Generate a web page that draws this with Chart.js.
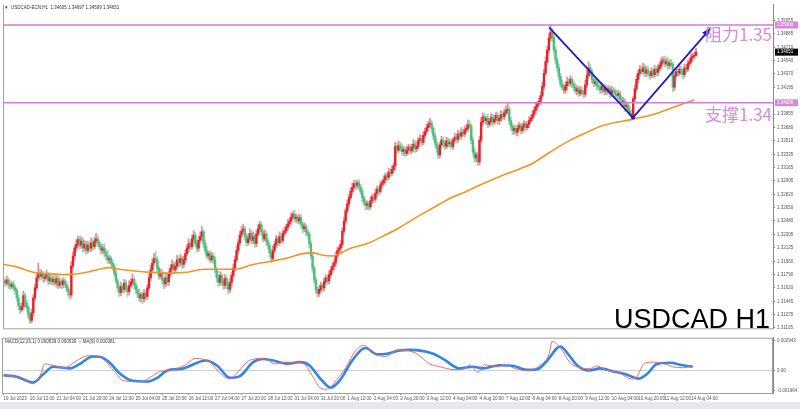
<!DOCTYPE html>
<html>
<head>
<meta charset="utf-8">
<script src="https://cdn.jsdelivr.net/npm/chart.js@4.4.0/dist/chart.umd.min.js"></script>
<style>
  html, body { margin: 0; padding: 0; background: #e6e8ec; }
  #wrap { position: relative; width: 800px; height: 409px; overflow: hidden; }
  #sheet { position: absolute; left: 0; top: 0; width: 800px; height: 402px; background: #fff; }
  canvas { position: absolute; left: 0; }
  #main { top: 0; }
  #macd { top: 333px; }
</style>
</head>
<body>
<div id="wrap">
  <div id="sheet"></div>
  <canvas id="main" width="800" height="333"></canvas>
  <canvas id="macd" width="800" height="69"></canvas>
</div>
<script>
// USDCAD H1 closes, one per hourly bar (19 Jul 20:00 .. 14 Aug 07:00)
const firstOpen = 1.3169;
const closes = [
  1.3171,1.3168,1.3172,1.3166,1.3164,1.3167,1.3162,1.3159,1.3149,1.3139,
  1.3134,1.3138,1.3152,1.3142,1.3137,1.3127,1.3120,1.3130,1.3149,1.3162,
  1.3175,1.3182,1.3177,1.3180,1.3174,1.3176,1.3179,1.3171,1.3175,1.3170,
  1.3173,1.3168,1.3174,1.3165,1.3170,1.3166,1.3171,1.3167,1.3162,1.3157,
  1.3153,1.3190,1.3203,1.3213,1.3218,1.3224,1.3217,1.3222,1.3213,1.3218,
  1.3210,1.3217,1.3213,1.3220,1.3215,1.3222,1.3225,1.3220,1.3215,1.3210,
  1.3213,1.3207,1.3203,1.3198,1.3200,1.3194,1.3190,1.3181,1.3171,1.3162,
  1.3156,1.3164,1.3160,1.3168,1.3162,1.3157,1.3165,1.3169,1.3173,1.3166,
  1.3160,1.3155,1.3149,1.3153,1.3148,1.3155,1.3151,1.3162,1.3175,1.3185,
  1.3194,1.3200,1.3198,1.3187,1.3177,1.3181,1.3172,1.3167,1.3175,1.3170,
  1.3180,1.3187,1.3192,1.3185,1.3190,1.3198,1.3194,1.3200,1.3192,1.3198,
  1.3206,1.3213,1.3219,1.3215,1.3225,1.3230,1.3219,1.3213,1.3223,1.3228,
  1.3234,1.3219,1.3210,1.3203,1.3206,1.3198,1.3203,1.3198,1.3185,1.3175,
  1.3169,1.3178,1.3171,1.3165,1.3174,1.3166,1.3160,1.3169,1.3178,1.3187,
  1.3198,1.3210,1.3220,1.3230,1.3235,1.3238,1.3228,1.3220,1.3225,1.3232,
  1.3223,1.3228,1.3219,1.3231,1.3238,1.3243,1.3234,1.3225,1.3231,1.3222,
  1.3216,1.3207,1.3200,1.3210,1.3218,1.3225,1.3220,1.3228,1.3223,1.3232,
  1.3235,1.3240,1.3244,1.3248,1.3253,1.3257,1.3251,1.3253,1.3248,1.3252,
  1.3244,1.3238,1.3241,1.3234,1.3231,1.3219,1.3203,1.3187,1.3172,1.3160,
  1.3155,1.3160,1.3165,1.3162,1.3170,1.3175,1.3171,1.3179,1.3185,1.3190,
  1.3194,1.3203,1.3210,1.3213,1.3218,1.3235,1.3248,1.3261,1.3270,1.3278,
  1.3286,1.3291,1.3296,1.3294,1.3297,1.3292,1.3286,1.3278,1.3272,1.3268,
  1.3270,1.3266,1.3274,1.3279,1.3276,1.3284,1.3289,1.3286,1.3294,1.3297,
  1.3301,1.3306,1.3304,1.3311,1.3309,1.3314,1.3319,1.3344,1.3339,1.3345,
  1.3342,1.3337,1.3340,1.3335,1.3339,1.3343,1.3338,1.3342,1.3347,1.3341,
  1.3344,1.3352,1.3354,1.3349,1.3358,1.3363,1.3368,1.3372,1.3374,1.3367,
  1.3358,1.3349,1.3342,1.3333,1.3346,1.3352,1.3348,1.3344,1.3351,1.3347,
  1.3349,1.3344,1.3352,1.3356,1.3353,1.3360,1.3357,1.3362,1.3360,1.3365,
  1.3367,1.3372,1.3370,1.3352,1.3337,1.3329,1.3333,1.3324,1.3352,1.3375,
  1.3382,1.3377,1.3380,1.3372,1.3376,1.3381,1.3375,1.3379,1.3384,1.3377,
  1.3380,1.3385,1.3382,1.3387,1.3390,1.3392,1.3377,1.3370,1.3364,1.3367,
  1.3362,1.3367,1.3371,1.3364,1.3369,1.3373,1.3368,1.3372,1.3377,1.3380,
  1.3385,1.3390,1.3395,1.3399,1.3402,1.3409,1.3421,1.3438,1.3453,1.3468,
  1.3483,1.3491,1.3484,1.3468,1.3455,1.3445,1.3434,1.3424,1.3420,1.3416,
  1.3422,1.3427,1.3425,1.3430,1.3424,1.3420,1.3415,1.3418,1.3412,1.3416,
  1.3414,1.3411,1.3423,1.3435,1.3445,1.3440,1.3430,1.3425,1.3427,1.3422,
  1.3420,1.3417,1.3421,1.3415,1.3419,1.3414,1.3418,1.3412,1.3416,1.3415,
  1.3411,1.3409,1.3412,1.3405,1.3400,1.3402,1.3395,1.3397,1.3390,1.3386,
  1.3383,1.3405,1.3418,1.3430,1.3438,1.3443,1.3440,1.3445,1.3438,1.3442,
  1.3438,1.3435,1.3440,1.3436,1.3443,1.3439,1.3444,1.3448,1.3453,1.3455,
  1.3450,1.3453,1.3448,1.3451,1.3449,1.3420,1.3435,1.3440,1.3438,1.3443,
  1.3440,1.3436,1.3445,1.3443,1.3450,1.3453,1.3458,1.3460,1.3461,1.34651
];
// wick lengths in pips above / below the candle body
const upWick = [
  4,3,5,3,4,3,4,3,3,4, 3,5,6,3,4,3,4,5,4,5, 4,12,4,5,3,4,6,3,4,5, 4,5,3,4,5,3,4,3,4,3,
  3,6,5,4,6,5,4,6,4,5, 4,5,4,6,4,5,7,4,3,4, 5,6,4,7,4,3,4,3,4,3, 4,5,3,5,4,3,6,5,7,3,
  3,4,5,3,4,5,3,4,5,6, 5,6,9,4,3,5,4,3,5,4, 4,5,6,3,5,6,4,5,3,5, 5,4,6,3,5,6,3,4,5,6,
  7,3,4,5,3,4,5,3,4,3, 4,5,3,4,5,3,4,5,4,5, 5,6,4,5,6,6,3,4,5,6, 4,6,3,5,6,5,4,3,6,4,
  3,4,5,6,4,5,3,6,4,5, 5,4,6,4,5,3,5,4,3,5, 4,3,5,3,4,3,3,4,3,4, 3,5,4,3,5,4,3,5,4,5,
  4,5,4,3,5,4,5,4,5,4, 5,6,4,5,3,4,3,4,3,4, 4,3,5,4,3,5,4,3,5,4, 5,4,3,5,4,5,4,5,4,6,
  4,5,4,3,5,4,3,5,6,4, 5,4,5,3,5,4,5,4,6,3, 3,4,5,4,3,5,4,3,5,4, 4,5,3,5,4,5,3,6,4,5,
  5,6,5,3,4,5,3,4,5,6, 5,4,3,5,4,5,4,5,4,3, 4,5,4,5,6,7,3,4,3,4, 3,5,4,3,5,4,3,4,5,4,
  5,4,5,3,4,5,6,5,6,5, 6,10,4,3,4,3,5,4,5,3, 5,6,4,5,3,4,5,4,3,5, 4,3,6,7,8,4,3,5,4,3,
  4,3,5,3,4,3,4,3,5,4, 3,5,4,3,4,5,3,4,3,4, 4,3,5,6,4,5,4,6,4,5, 4,3,5,4,5,4,5,4,5,4,
  5,4,5,4,5,3,4,5,4,5, 4,3,5,4,5,4,5,4,4,5
];
const downWick = [
  3,4,3,5,4,3,4,5,4,5, 5,3,4,5,4,5,4,3,4,3, 3,4,5,3,5,4,3,5,4,4, 4,3,5,4,3,5,4,4,5,6,
  6,4,3,5,4,3,5,4,5,4, 5,3,4,4,5,3,4,5,4,5, 4,5,5,4,5,4,5,4,3,5, 5,4,5,4,5,6,4,3,4,5,
  5,6,4,5,6,4,5,4,3,4, 4,3,4,5,4,3,5,6,4,5, 5,4,3,5,4,3,5,4,5,4, 4,3,5,4,3,5,4,5,4,3,
  4,5,4,3,5,4,3,5,4,5, 5,4,6,5,4,5,6,4,5,4, 4,3,4,3,4,3,5,4,3,4, 5,4,5,4,3,4,5,4,3,5,
  4,5,6,4,3,4,5,3,4,3, 4,3,4,3,4,3,4,5,4,3, 4,5,4,5,4,5,4,5,4,5, 5,4,3,5,4,3,5,4,3,4,
  5,4,3,4,5,4,3,4,3,4, 3,4,3,4,5,3,4,5,4,5, 5,4,3,4,5,3,4,5,3,4, 3,4,5,3,4,3,4,5,4,3,
  4,3,5,4,3,5,4,3,4,5, 4,3,4,5,3,4,3,4,3,5, 5,4,6,5,4,3,5,4,3,4, 4,3,4,3,5,4,3,4,3,4,
  3,4,3,5,4,5,5,5,4,3, 4,3,5,4,3,4,5,3,4,5, 5,4,3,4,3,4,5,4,5,4, 4,5,3,4,3,4,5,3,4,3,
  3,4,3,4,3,4,3,4,3,4, 4,3,5,4,5,4,5,4,3,4, 4,5,3,4,5,4,3,5,4,3, 4,5,3,4,3,5,4,3,4,5,
  4,5,4,3,5,4,3,5,4,3, 5,4,5,6,4,5,6,4,5,4, 4,4,3,4,5,3,4,3,5,4, 4,5,3,4,3,5,4,3,4,3,
  4,3,5,4,3,6,4,3,4,3, 4,5,3,4,3,4,3,4,3,1
];

// orange moving average, read at selected bars
const maIdx = [0,8,18,28,38,48,58,64,70,78,89,99,111,121,141,149,161,171,181,187,193,199,210,220,230,240,250,260,270,280,290,300,311,320,331,343,352,363,381,393,405,418];
const maVals = [1.3192,1.3189,1.3182,1.3180,1.3179,1.3181,1.3186,1.3188,1.3186,1.3184,1.3182,1.3181,1.3182,1.3186,1.3186,1.3191,1.3196,1.3200,1.3206,1.3207,1.3204,1.3203,1.3213,1.3219,1.3229,1.3240,1.3253,1.3265,1.3277,1.3286,1.3296,1.3305,1.3314,1.3322,1.3337,1.3352,1.3361,1.3371,1.3379,1.3385,1.3394,1.3404];

// hand drawn V (resistance -> support -> resistance)
const vIdx = [330.1, 380.9, 427.9];
const vVals = [1.3497, 1.3381, 1.3496];
const resistance = 1.35;
const support = 1.34;

// MACD panel
const blueIdx = [0,8,18,24,30,40,46,54,58,64,70,78,87,93,99,109,115,122,129,137,143,151,157,163,172,179,185,192,198,204,211,219,226,232,239,246,260,266,276,284,290,300,308,317,323,329,335,337,341,347,354,361,369,377,384,390,395,403,411,417];
const blueVals = [-0.00043,-0.00059,-0.00114,-0.00034,0.00040,0.00024,0.00067,0.00141,0.00138,0.00085,-0.00022,-0.00098,-0.00105,-0.00068,0.00003,0.00024,0.00064,0.00101,0.00055,-0.00068,-0.00052,0.00085,0.00116,0.00101,0.00070,0.00085,0.00055,-0.00083,-0.00165,-0.00083,0.00101,0.00223,0.00162,0.00168,0.00198,0.00205,0.00168,0.00116,0.00024,0.00040,0.00024,0.00055,0.00049,0.00009,0.00015,0.00101,0.00223,0.00239,0.00177,0.00055,0.00003,0.00024,-0.00006,-0.00037,-0.00077,-0.00022,0.00064,0.00079,0.00055,0.00040];
const redIdx = [0,7,13,18,22,25,31,37,43,49,55,61,67,73,83,89,95,101,110,116,121,125,131,137,143,149,158,164,170,176,182,187,192,196,201,207,213,218,223,231,239,249,258,264,273,279,282,287,291,299,303,310,316,325,330,332,337,343,349,355,359,364,373,380,383,388,394,400,405,411,415];
const redVals = [-0.00034,-0.00062,-0.00098,-0.00126,-0.00052,0.00067,0.00049,0.00030,0.00085,0.00141,0.00150,0.00104,-0.00006,-0.00098,-0.00108,-0.00062,-0.00006,0.00003,0.00058,0.00122,0.00113,0.00085,-0.00025,-0.00080,0.00012,0.00104,0.00122,0.00067,0.00085,0.00085,0.00067,-0.00052,-0.00172,-0.00181,-0.00098,0.00030,0.00196,0.00251,0.00177,0.00141,0.00205,0.00177,0.00067,0.00040,0.00012,0.00021,0.00058,-0.00016,0.00058,0.00040,0.00058,0.00021,0.00003,0.00058,0.00159,0.00288,0.00223,0.00076,0.00030,0.00021,0.00049,0.00012,-0.00025,-0.00080,-0.00062,0.00076,0.00085,0.00067,0.00040,0.00030,0.00040];

// axis labels
const priceTicks = [1.35055,1.34885,1.34710,1.34540,1.34370,1.34195,1.33855,1.33680,1.33510,1.33335,1.33165,1.32995,1.32820,1.32650,1.32480,1.32305,1.32135,1.31960,1.31790,1.31620,1.31445,1.31275,1.31105];
const macdTicks = [0.002943, 0, -0.001964];
const macdTickLabels = ["0.002943", "0.00", "-0.001964"];
const timeIdx = [0,16,32,48,64,80,96,112,128,144,160,176,192,208,224,240,256,272,288,304,320,336,352,368,384,400,416];
const timeLabels = ["19 Jul 2023","20 Jul 12:00","21 Jul 04:00","21 Jul 20:00","24 Jul 12:00","25 Jul 04:00","25 Jul 20:00","26 Jul 12:00","27 Jul 04:00","27 Jul 20:00","28 Jul 12:00","31 Jul 04:00","31 Jul 20:00","1 Aug 12:00","2 Aug 04:00","2 Aug 20:00","3 Aug 12:00","4 Aug 04:00","4 Aug 20:00","7 Aug 12:00","8 Aug 04:00","8 Aug 20:00","9 Aug 12:00","10 Aug 04:00","10 Aug 20:00","11 Aug 12:00","14 Aug 04:00"];

const xMin = -0.34, xMax = 465.6;
const FONT = "'Liberation Sans', Arial, sans-serif";
const tinyFont = { size: 4.5, family: FONT };

const opens = closes.map((c, i) => (i === 0 ? firstOpen : closes[i - 1]));
const highs = closes.map((c, i) => Math.max(opens[i], c) + upWick[i] / 10000);
const lows = closes.map((c, i) => Math.min(opens[i], c) - downWick[i] / 10000);

const bodyData = closes.map((c, i) => ({ x: i, y: [opens[i], c] }));
const wickData = closes.map((c, i) => ({ x: i, y: [lows[i], highs[i]] }));
const bodyColors = closes.map((c, i) => (c >= opens[i] ? "#e4222b" : "#52bb80"));
const wickColors = closes.map((c, i) => (c >= opens[i] ? "#ee9196" : "#97d6b2"));

const pts = (xs, ys) => xs.map((x, i) => ({ x: x, y: ys[i] }));

const mainDecor = {
  id: "mainDecor",
  afterDraw(chart) {
    const { ctx, chartArea: a, scales } = chart;
    const x = scales.x, y = scales.y;
    ctx.save();

    // frame
    ctx.strokeStyle = "#a0a0a0";
    ctx.lineWidth = 1;
    ctx.beginPath();
    ctx.moveTo(a.left + 0.5, a.top);
    ctx.lineTo(a.left + 0.5, a.bottom + 0.5);
    ctx.lineTo(a.right, a.bottom + 0.5);
    ctx.stroke();

    // arrow head on the V line
    const n = vIdx.length - 1;
    const x1 = x.getPixelForValue(vIdx[n]), y1 = y.getPixelForValue(vVals[n]);
    const x0 = x.getPixelForValue(vIdx[n - 1]), y0 = y.getPixelForValue(vVals[n - 1]);
    const ang = Math.atan2(y1 - y0, x1 - x0);
    ctx.fillStyle = "#1f1fc0";
    ctx.beginPath();
    ctx.moveTo(x1, y1);
    ctx.lineTo(x1 - 9 * Math.cos(ang) + 3.5 * Math.sin(ang), y1 - 9 * Math.sin(ang) - 3.5 * Math.cos(ang));
    ctx.lineTo(x1 - 9 * Math.cos(ang) - 3.5 * Math.sin(ang), y1 - 9 * Math.sin(ang) + 3.5 * Math.cos(ang));
    ctx.closePath();
    ctx.fill();

    // annotations
    ctx.fillStyle = "#d88bd8";
    ctx.font = "17px 'Noto Sans CJK SC', sans-serif";
    ctx.textAlign = "right";
    ctx.textBaseline = "top";
    ctx.fillText("阻力1.35", a.right - 1, y.getPixelForValue(resistance) + 1);
    ctx.fillText("支撑1.34", a.right - 1, y.getPixelForValue(support) + 3);

    ctx.fillStyle = "#000";
    ctx.font = "27px " + FONT;
    ctx.textBaseline = "alphabetic";
    ctx.fillText("USDCAD H1", a.right - 3, 328);

    // header
    ctx.fillStyle = "#333";
    ctx.font = "4.5px " + FONT;
    ctx.textAlign = "left";
    ctx.textBaseline = "middle";
    ctx.fillText("\u25BC  USDCAD-ECN,H1  1.34605 1.34697 1.34599 1.34651", 4, 8);

    // price tags
    const tag = (v, bg, fg) => {
      const py = y.getPixelForValue(v);
      ctx.fillStyle = bg;
      ctx.fillRect(a.right + 2, py - 3.5, 23, 7);
      ctx.fillStyle = fg;
      ctx.fillText(v.toFixed(5), a.right + 4, py);
    };
    tag(resistance, "#d88bd8", "#fff");
    tag(support, "#d88bd8", "#fff");
    tag(closes[closes.length - 1], "#000", "#fff");
    ctx.restore();
  }
};

new Chart(document.getElementById("main"), {
  type: "bar",
  data: {
    datasets: [
      { type: "line", data: pts(vIdx, vVals), borderColor: "#1f1fc0", borderWidth: 1.8,
        pointRadius: [0, 2, 0], pointBackgroundColor: "#1f1fc0", pointBorderWidth: 0, order: -1 },
      { type: "line", data: [{ x: xMin, y: resistance }, { x: xMax, y: resistance }],
        borderColor: "#d27dd2", borderWidth: 1.6, pointRadius: 0, order: 0 },
      { type: "line", data: [{ x: xMin, y: support }, { x: xMax, y: support }],
        borderColor: "#d27dd2", borderWidth: 1.6, pointRadius: 0, order: 0 },
      { type: "line", data: pts(maIdx, maVals), borderColor: "#f29420", borderWidth: 1.6,
        pointRadius: 0, cubicInterpolationMode: "monotone", order: 1 },
      { type: "bar", data: bodyData, backgroundColor: bodyColors, barThickness: 1.7,
        grouped: false, minBarLength: 1, order: 2 },
      { type: "bar", data: wickData, backgroundColor: wickColors, barThickness: 1.2,
        grouped: false, order: 3 }
    ]
  },
  options: {
    responsive: false,
    animation: false,
    events: [],
    layout: { padding: { left: 3, top: 2, bottom: 3, right: 0 } },
    plugins: { legend: { display: false }, tooltip: { enabled: false } },
    scales: {
      x: { type: "linear", display: false, min: xMin, max: xMax, offset: false, grid: { offset: false } },
      y: {
        position: "right",
        min: 1.311,
        max: 1.35261,
        afterFit(s) { s.width = 27; },
        afterBuildTicks(s) { s.ticks = priceTicks.map((v) => ({ value: v })); },
        grid: { drawOnChartArea: false, tickLength: 2, color: "#888" },
        border: { color: "#888" },
        ticks: { autoSkip: false, padding: 2, font: tinyFont, color: "#555", callback: (v) => v.toFixed(5) }
      }
    }
  },
  plugins: [mainDecor]
});

const macdDecor = {
  id: "macdDecor",
  afterDraw(chart) {
    const { ctx, chartArea: a } = chart;
    ctx.save();
    ctx.strokeStyle = "#a0a0a0";
    ctx.lineWidth = 1;
    ctx.strokeRect(a.left - 0.5, a.top + 0.5, a.right - a.left, a.bottom - a.top);
    ctx.fillStyle = "#333";
    ctx.font = "4.5px " + FONT;
    ctx.textBaseline = "middle";
    ctx.fillText("MACD(12,26,1) 0.000539 0.000539  \u25CB MA(9) 0.000381", a.left + 2, a.top + 4.5);
    ctx.restore();
  }
};

new Chart(document.getElementById("macd"), {
  type: "line",
  data: {
    datasets: [
      { data: pts(redIdx, redVals), borderColor: "#ef6a6a", borderWidth: 1, pointRadius: 0,
        cubicInterpolationMode: "monotone", order: 0 },
      { data: pts(blueIdx, blueVals), borderColor: "#2f86e6", borderWidth: 2.6, pointRadius: 0,
        cubicInterpolationMode: "monotone", order: 1 }
    ]
  },
  options: {
    responsive: false,
    animation: false,
    events: [],
    layout: { padding: { left: 3, top: 1, bottom: 0, right: 0 } },
    plugins: { legend: { display: false }, tooltip: { enabled: false } },
    scales: {
      x: {
        type: "linear",
        min: xMin,
        max: xMax,
        offset: false,
        afterBuildTicks(s) { s.ticks = timeIdx.map((v) => ({ value: v })); },
        afterFit(s) { s.height = 9; },
        grid: { drawOnChartArea: false, tickLength: 2, color: "#999" },
        border: { display: false },
        ticks: {
          autoSkip: false, maxRotation: 0, align: "start", padding: 1,
          font: tinyFont, color: "#555",
          callback: (v) => timeLabels[timeIdx.indexOf(v)]
        }
      },
      y: {
        position: "right",
        min: -0.002175,
        max: 0.003246,
        afterFit(s) { s.width = 27; },
        afterBuildTicks(s) { s.ticks = macdTicks.map((v) => ({ value: v })); },
        grid: {
          color: (c) => (c.tick && c.tick.value === 0 ? "#cfcfcf" : "rgba(0,0,0,0)"),
          tickColor: "#888",
          tickLength: 2
        },
        border: { color: "#888" },
        ticks: { autoSkip: false, padding: 2, font: tinyFont, color: "#555",
          callback: (v) => macdTickLabels[macdTicks.indexOf(v)] }
      }
    }
  },
  plugins: [macdDecor]
});
</script>
</body>
</html>
